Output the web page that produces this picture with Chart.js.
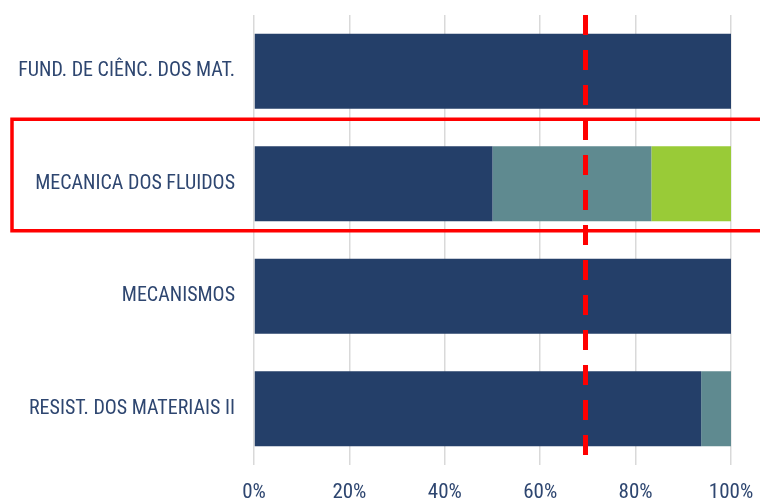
<!DOCTYPE html>
<html>
<head>
<meta charset="utf-8">
<script src="https://cdn.jsdelivr.net/npm/chart.js@4/dist/chart.umd.min.js"></script>
<style>
  html, body { margin: 0; padding: 0; background: #ffffff; }
  #wrap { width: 760px; height: 504px; position: relative; }
</style>
</head>
<body>
<div id="wrap"><canvas id="c" width="760" height="504"></canvas></div>
<script>
const categories = ["FUND. DE CIÊNC. DOS MAT.", "MECANICA DOS FLUIDOS", "MECANISMOS", "RESIST. DOS MATERIAIS II"];
const seriesA = [100, 50, 100, 93.75];
const seriesB = [0, 33.3, 0, 6.25];
const seriesC = [0, 16.7, 0, 0];
const xTicks = [0, 20, 40, 60, 80, 100];
const targetLine = 69.5;
const highlightIndex = 1;

function hasFont(f) {
  const c = document.createElement('canvas').getContext('2d');
  const s = 'MECANICA DOS FLUIDOS mmwwii';
  let diff = false;
  ['monospace', 'serif'].forEach(g => {
    c.font = '40px ' + g; const a = c.measureText(s).width;
    c.font = "40px '" + f + "', " + g; const b = c.measureText(s).width;
    if (a !== b) diff = true;
  });
  return diff;
}
let FONT = "'Roboto', sans-serif", LSIZE = 18, TSIZE = 19;
for (const f of ['Roboto Condensed', 'Liberation Sans Narrow', 'Arial Narrow']) {
  if (hasFont(f)) { FONT = "'" + f + "', sans-serif"; LSIZE = 20; TSIZE = 21; break; }
}
const TEXT = '#2e4670';

const overlay = {
  id: 'overlay',
  afterDatasetsDraw(chart) {
    const ctx = chart.ctx;
    const xs = chart.scales.x, ys = chart.scales.y;
    const area = chart.chartArea;
    const px = xs.getPixelForValue(targetLine);
    ctx.save();
    ctx.strokeStyle = '#ff0000';
    ctx.lineWidth = 5;
    ctx.setLineDash([20, 15]);
    ctx.beginPath();
    ctx.moveTo(px, area.top);
    ctx.lineTo(px, area.bottom);
    ctx.stroke();
    ctx.restore();
    const cy = ys.getPixelForValue(highlightIndex);
    ctx.save();
    ctx.strokeStyle = '#ff0000';
    ctx.lineWidth = 3.5;
    ctx.strokeRect(12, cy - 64.5, 760, 111.5);
    ctx.restore();
  }
};

function zeroPad(scale) {
  scale.paddingLeft = 0; scale.paddingRight = 0;
  scale.paddingTop = 0; scale.paddingBottom = 0;
}

new Chart(document.getElementById('c'), {
  type: 'bar',
  data: {
    labels: categories,
    datasets: [
      { data: seriesA, backgroundColor: '#243f69' },
      { data: seriesB, backgroundColor: '#5f8a90' },
      { data: seriesC, backgroundColor: '#99cb37' }
    ]
  },
  options: {
    indexAxis: 'y',
    responsive: false,
    animation: false,
    devicePixelRatio: 1,
    layout: { padding: { left: 0, right: 29, top: 15, bottom: 0 } },
    plugins: { legend: { display: false }, tooltip: { enabled: false } },
    datasets: { bar: { categoryPercentage: 1, barPercentage: 0.665, borderWidth: 0 } },
    scales: {
      x: {
        stacked: true,
        min: 0, max: 100,
        afterBuildTicks(scale) { scale.ticks = xTicks.map(v => ({ value: v })); },
        afterFit(scale) { scale.height = 39; zeroPad(scale); },
        grid: { color: '#d9d9d9', lineWidth: 1.5, drawTicks: false },
        border: { display: false },
        ticks: {
          padding: 15,
          color: TEXT,
          font: { family: FONT, size: TSIZE },
          callback: v => v + '%'
        }
      },
      y: {
        stacked: true,
        afterFit(scale) { scale.width = 254; zeroPad(scale); },
        grid: { display: false, drawTicks: false },
        border: { display: false },
        ticks: {
          padding: 19,
          color: TEXT,
          font: { family: FONT, size: LSIZE }
        }
      }
    }
  },
  plugins: [overlay]
});
</script>
</body>
</html>
